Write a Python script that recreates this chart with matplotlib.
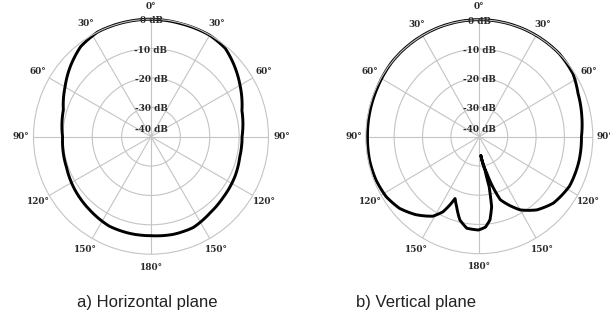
import numpy as np
import matplotlib
matplotlib.use("Agg")
import matplotlib.pyplot as plt

# ---------------- data ----------------
# angles in degrees, clockwise from top; levels in dB
h_angle = [0, 15, 30, 40, 48, 60, 74, 90, 103, 115, 130, 142, 155, 167, 180,
           192, 205, 220, 235, 250, 270, 287, 300, 311, 322, 333, 345, 360]
h_level = [0.0, -0.2, -0.1, -0.7, -2.4, -5.0, -7.8, -9.0, -9.0, -8.4, -7.9, -7.2,
           -5.9, -5.9, -6.3, -6.3, -6.4, -7.5, -8.4, -9.4, -9.9, -8.8, -6.2, -3.6,
           -1.1, 0.0, 0.0, 0.0]

v_angle = [175, 170, 168.5, 169.7, 172.5, 176, 180.5, 188, 193.5, 198.5, 202,
           204, 206.5, 211, 220, 229, 238, 248, 258, 270, 282, 294, 310, 325, 340,
           360, 375, 390, 405, 417, 427, 439, 450, 463, 478, 491, 501, 510, 521,
           528, 535]
v_level = [-33.5, -28.4, -22.6, -15.7, -11.3, -9.0, -8.1, -8.4, -10.7, -14.8, -17.2,
           -14.4, -11.3, -8.3, -5.2, -2.7, -1.3, -0.7, -0.5, -0.6, -0.5, -0.4, 0.0,
           0.0, 0.0, 0.0, 0.0, 0.0, 0.0, -0.6, -2.2, -3.2, -4.0, -3.9, -4.0,
           -5.4, -7.8, -11.1, -17.2, -27.2, -33.5]

theta_ticks = [0, 30, 60, 90, 120, 150, 180, 210, 240, 270, 300, 330]
theta_labels = ['0°', '30°', '60°', '90°', '120°', '150°', '180°',
                '150°', '120°', '90°', '60°', '30°']
r_ticks = [-40, -30, -20, -10, 0]
r_labels = ['-40 dB', '-30 dB', '-20 dB', '-10 dB', '0 dB']
captions = ['a) Horizontal plane', 'b) Vertical plane']

# ---------------- figure ----------------
W, H = 610, 323
fig = plt.figure(figsize=(W / 100, H / 100), dpi=100)
fig.patch.set_facecolor('white')

grid_col = '#c4c4c4'
lab_col = '#2a2a2a'
tick_font = dict(family='DejaVu Serif', weight='bold', size=6.4, color=lab_col)


def make_axes(cx, cy, rx, ry):
    ax = fig.add_axes([(cx - rx) / W, (H - cy - ry) / H, 2 * rx / W, 2 * ry / H],
                      projection='polar')
    ax.set_aspect('auto')
    ax.set_theta_zero_location('N')
    ax.set_theta_direction(-1)
    ax.set_ylim(r_ticks[0], r_ticks[-1])
    ax.set_xticks(np.deg2rad(theta_ticks))
    ax.set_xticklabels([])
    ax.set_yticks(r_ticks[1:-1])
    ax.set_yticklabels([])
    ax.grid(True, color=grid_col, lw=0.8)
    ax.spines['polar'].set_color(grid_col)
    ax.spines['polar'].set_linewidth(0.8)
    ax.set_facecolor('none')
    span = r_ticks[-1] - r_ticks[0]
    for t, lab in zip(theta_ticks, theta_labels):
        ax.text(np.deg2rad(t), r_ticks[0] + 1.11 * span, lab, ha='center',
                va='center', clip_on=False, **tick_font)
    for r, lab in zip(r_ticks, r_labels):
        rr = r + 2.3 if r == r_ticks[0] else r - 0.5
        ax.text(0, rr, lab, ha='center', va='center', clip_on=False, **tick_font)
    return ax


def draw_curve(ax, ang, lev):
    ln, = ax.plot(np.deg2rad(ang), lev, color='black', lw=2.1, clip_on=False,
                  solid_joinstyle='round', solid_capstyle='round')
    ln.get_path()._interpolation_steps = 40
    return ln


ax1 = make_axes(151, 136.7, 117.5, 117.5)
draw_curve(ax1, h_angle, h_level)

ax2 = make_axes(479.3, 136.7, 113.5, 117)
draw_curve(ax2, v_angle, v_level)

cap_font = dict(family='Liberation Sans', size=12, color='#222222',
                ha='center', va='center')
fig.text(147.5 / W, (H - 302) / H, captions[0], **cap_font)
fig.text(415.6 / W, (H - 302) / H, captions[1], **cap_font)

fig.savefig('out.png', dpi=100, facecolor='white')
